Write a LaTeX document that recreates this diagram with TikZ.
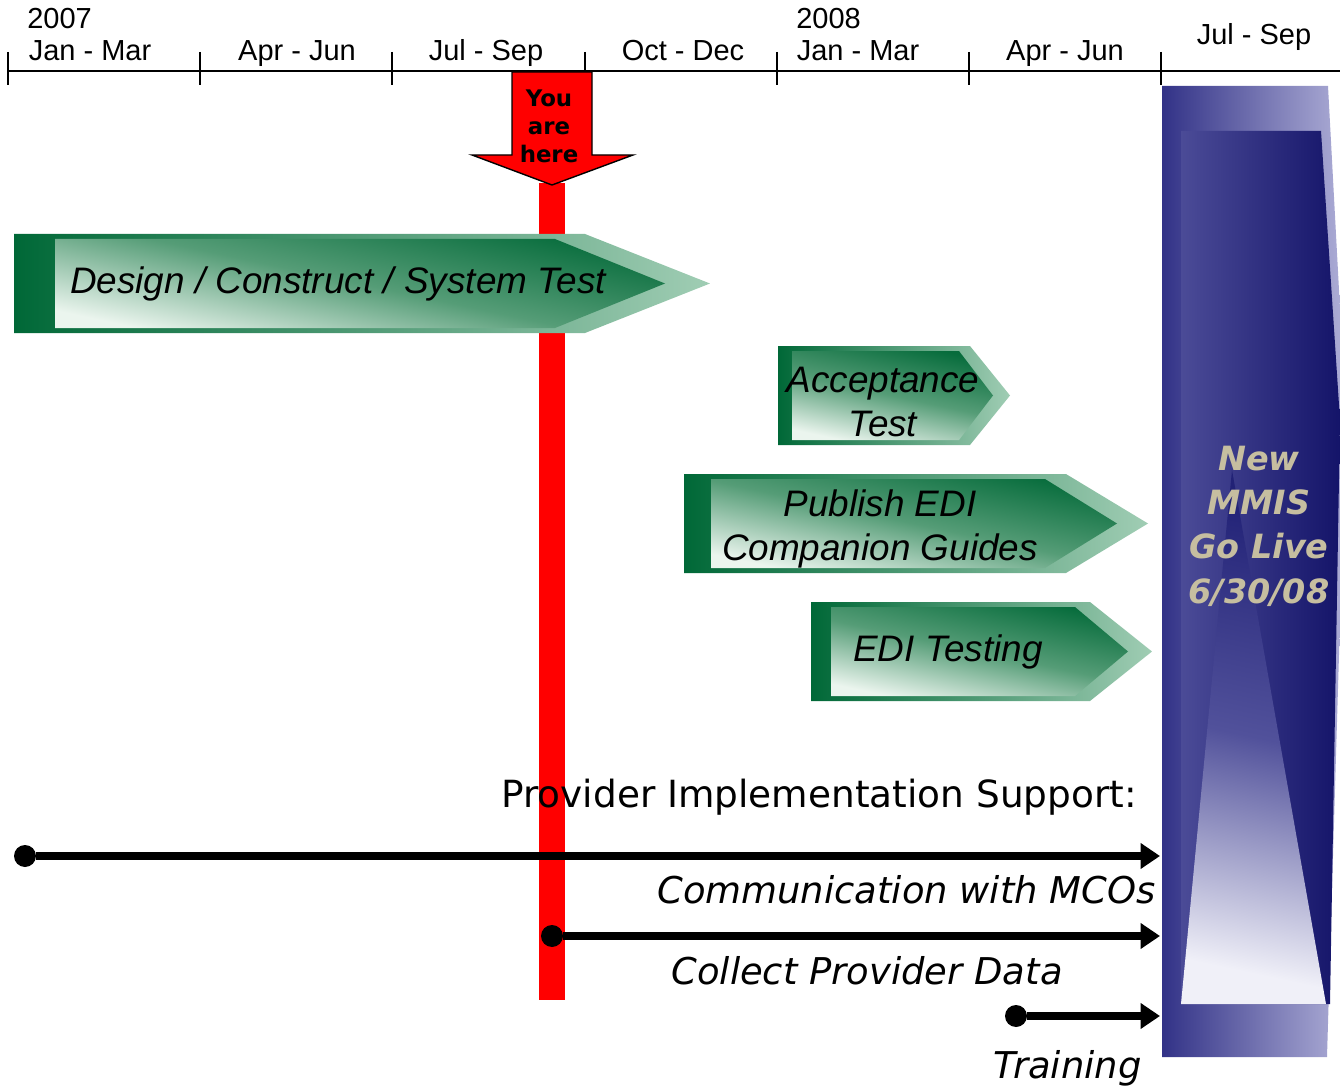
\documentclass[tikz,border=0pt]{standalone}
\usepackage{fontspec}
\setmainfont{Liberation Sans}
\newfontfamily\verdfont{DejaVu Sans}
\usetikzlibrary{arrows.meta}

\definecolor{phasedark}{RGB}{0,104,55}
\definecolor{phasemid}{RGB}{72,148,108}
\definecolor{phasepale}{RGB}{160,205,180}
\definecolor{phaselight}{RGB}{235,245,238}
\definecolor{navydark}{RGB}{20,20,105}
\definecolor{navymid}{RGB}{50,50,135}
\definecolor{navylight}{RGB}{175,175,215}
\definecolor{navypale}{RGB}{240,240,248}
\definecolor{livetext}{RGB}{198,190,160}

% one green phase arrow: outer x, inner x, top, bottom, outer head, outer tip, inner head, inner tip
\newcommand{\phasearrow}[8]{%
  \shade[left color=phasedark, right color=phasepale]
    (#1,#3) -- (#5,#3) -- (#6,{(#3+#4)/2}) -- (#5,#4) -- (#1,#4) -- cycle;
  \shade[top color=phasedark!90!phasemid, bottom color=phaselight, middle color=phasemid!85!phasepale, shading angle=-12]
    (#2,{#3+5}) -- (#7,{#3+5}) -- (#8,{(#3+#4)/2}) -- (#7,{#4-5}) -- (#2,{#4-5}) -- cycle;
}

\tikzset{
  quarter/.style={font=\fontsize{16.5pt}{18pt}\selectfont, inner sep=0pt, anchor=base},
  phasetext/.style={font=\fontsize{21pt}{25.5pt}\selectfont\itshape, align=center, inner sep=0pt},
  support/.style={font=\verdfont\fontsize{21pt}{24pt}\selectfont\itshape, inner sep=0pt},
  startdot/.style={circle, fill=black, inner sep=0pt, minimum size=0.44cm},
  flow/.style={line width=4pt, -{Triangle[length=11pt,width=14pt]}},
}

\begin{document}
\begin{tikzpicture}[x=0.02cm, y=-0.02cm]
\useasboundingbox (0,0) rectangle (1340,1088);

% quarters
\draw[line width=1.2pt] (8,71) -- (1340,71);
\draw[line width=0.9pt] (8,52) -- (8,85) (200,52) -- (200,85) (392,52) -- (392,85)
  (585,52) -- (585,85) (777,52) -- (777,85) (969,52) -- (969,85) (1161,52) -- (1161,85);
\node[quarter, anchor=base west] (year07) at (27,29) {2007};
\node[quarter] (q1) at (90,61) {Jan - Mar};
\node[quarter] (q2) at (297,61) {Apr - Jun};
\node[quarter] (q3) at (486,61) {Jul - Sep};
\node[quarter] (q4) at (683,61) {Oct - Dec};
\node[quarter, anchor=base west] (year08) at (796,29) {2008};
\node[quarter] (q5) at (858,61) {Jan - Mar};
\node[quarter] (q6) at (1065,61) {Apr - Jun};
\node[quarter] (q7) at (1254,45) {Jul - Sep};

% you are here
\fill[red] (539,183) rectangle (565,1000);
\draw[fill=red, line width=0.8pt] (512,72) -- (592,72) -- (592,155) -- (633,155) -- (552,185)
  -- (472,155) -- (512,155) -- cycle;
\node[font=\verdfont\fontsize{13pt}{15.9pt}\selectfont\bfseries, align=center, inner sep=0pt]
  (here) at (549,126) {You\\are\\here};

% phases
\phasearrow{14}{55}{234}{333}{585}{710}{555}{665}
\phasearrow{778}{792}{346}{445}{970}{1010}{959}{993}
\phasearrow{684}{711}{474}{573}{1066}{1148}{1045}{1117}
\phasearrow{811}{831}{602}{701}{1090}{1152}{1075}{1128}
\node[phasetext] (design) at (338,284) {Design / Construct / System Test};
\node[phasetext] (accept) at (883,402) {Acceptance\\Test};
\node[phasetext] (publish) at (880,529) {Publish EDI\\Companion Guides};
\node[phasetext] (editest) at (948,652) {EDI Testing};

% go live
\shade[left color=navymid, right color=navylight]
  (1162,86) -- (1328,86) -- (1346,420) -- (1327,1057) -- (1162,1057) -- cycle;
\shade[left color=navymid!80!navylight, right color=navydark]
  (1181,131) -- (1321,131) -- (1340,420) -- (1330,1004) -- (1181,1004) -- cycle;
\shade[top color=navydark!55!navymid, bottom color=navypale, middle color=navymid!75!navylight, shading angle=-12]
  (1181,1004) -- (1232,470) -- (1326,1004) -- cycle;
\node[font=\verdfont\fontsize{19pt}{25.2pt}\selectfont\bfseries\itshape, text=livetext,
  align=center, inner sep=0pt] (golive) at (1259,526) {New\\MMIS\\Go Live\\6/30/08};

% provider support
\node[font=\verdfont\fontsize{21.3pt}{24pt}\selectfont, inner sep=0pt, anchor=base west]
  (provider) at (501,807) {Provider Implementation Support:};
\node[startdot] (mcostart) at (25,856) {};
\coordinate (mcoend) at (1160,856);
\draw[flow] (mcostart) -- (mcoend);
\node[support, anchor=base east] (mco) at (1156,903) {Communication with MCOs};
\node[startdot] (datastart) at (552,936) {};
\coordinate (dataend) at (1160,936);
\draw[flow] (datastart) -- (dataend);
\node[support, anchor=base east] (data) at (1063,984) {Collect Provider Data};
\node[startdot] (trainstart) at (1016,1016) {};
\coordinate (trainend) at (1160,1016);
\draw[flow] (trainstart) -- (trainend);
\node[support, anchor=base east] (train) at (1142,1078) {Training};
\end{tikzpicture}
\end{document}
